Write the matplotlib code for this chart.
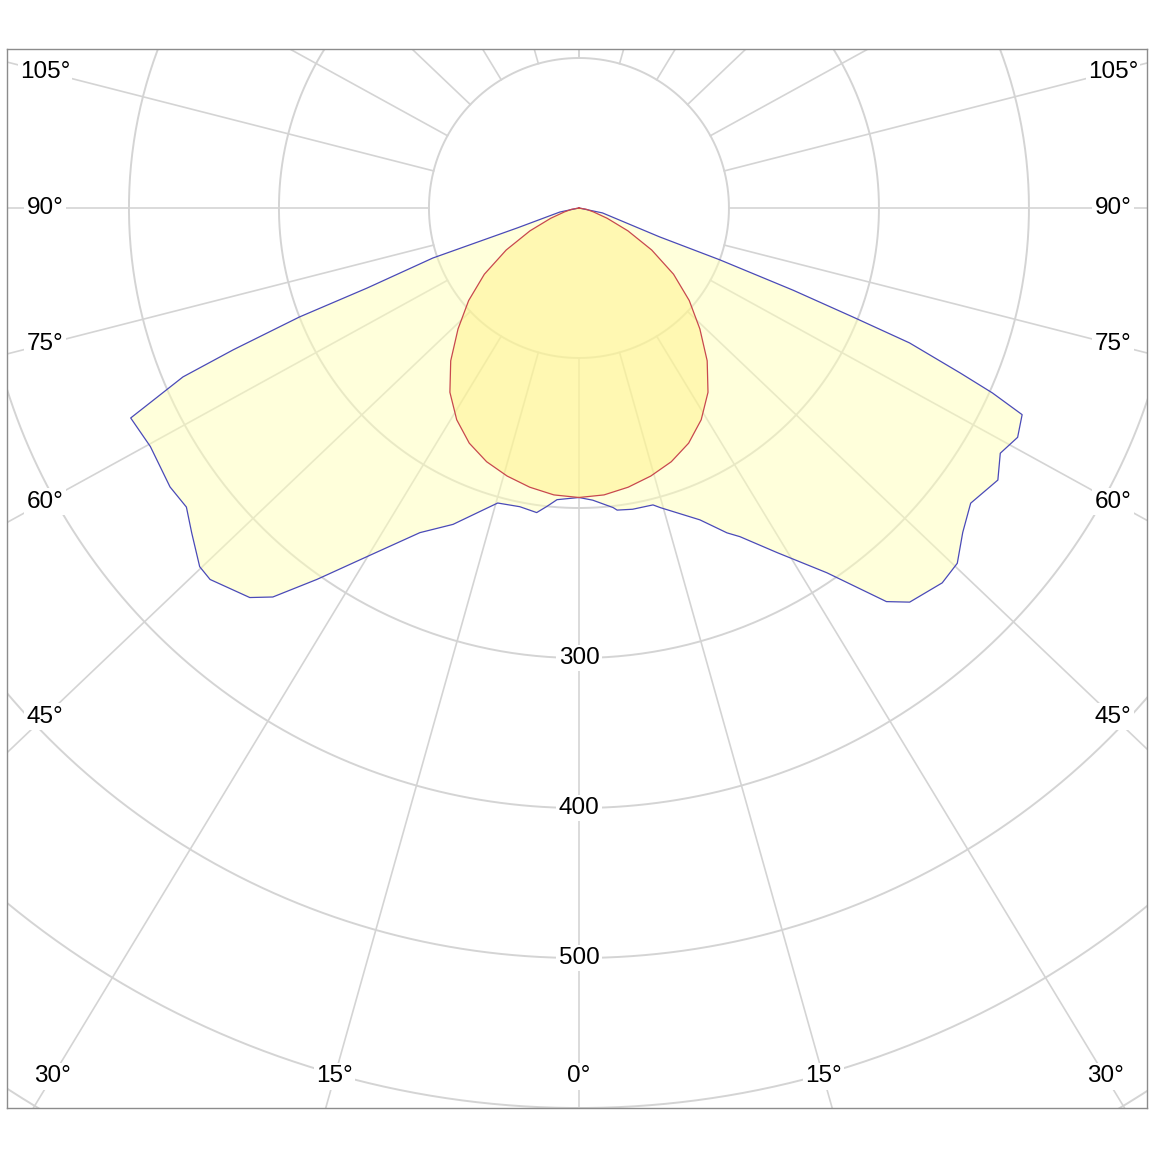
"""
Polar luminous intensity diagram (cd/klm style), C0 / C180 batwing plane + C90 plane.
"""
import numpy as np
import matplotlib
matplotlib.use("Agg")
import matplotlib.pyplot as plt

plt.rcParams['font.family'] = ['Liberation Sans', 'DejaVu Sans']

# blue plane, right half (gamma deg -> cd)
GAMMA_R = [0, 2.7, 6.5, 7.2, 10.1, 14.0, 15.2, 21.2, 24.5, 26.1, 29.9, 34.2, 38.0, 40.0,
           44.1, 46.8, 49.8, 53.0, 57.0, 59.8, 62.4, 65.0, 65.9, 66.6, 67.8, 68.3, 69.0,
           69.8, 70.3, 78.2, 90]
CD_R = [193, 195, 201, 203, 204, 204, 207, 223, 238, 244, 265, 294, 333, 343,
        348, 346, 335, 327, 333, 325, 330, 326, 302, 277, 238, 197, 153,
        100, 57, 16, 0]

# blue plane, left half
GAMMA_L = [0, 4.3, 6.1, 7.9, 11.2, 15.4, 21.7, 26.1, 31.3, 35.2, 38.2, 40.2, 44.8, 46.6,
           50.0, 52.7, 55.7, 60.9, 64.9, 66.9, 67.7, 68.7, 69.3, 71.1, 72.1, 78.1, 90]
CD_L = [193, 195, 200, 205, 203, 204, 227, 241, 272, 303, 330, 340, 349, 348,
        337, 329, 330, 327, 330, 287, 249, 200, 151, 103, 43, 13, 0]

# red plane (symmetric)
GAMMA_EGG = [0, 5, 10, 15, 20, 25, 30, 35, 40, 45, 50, 55, 60, 65, 70, 75, 80, 90]
CD_EGG = [193, 192, 189, 185, 180, 173, 163, 150, 133, 114, 96, 77, 56, 36, 20, 10, 5, 0]

RINGS = [100, 200, 300, 400, 500, 600, 700]
RING_LABELS = [300, 400, 500]
SPOKES = list(range(-180, 181, 15))
SIDE_LABELS = [45, 60, 75, 90, 105]
BOTTOM_LABELS = [-30, -15, 0, 15, 30]

GRID = '#d4d4d4'
K = 1.05  # spokes in the source are drawn slightly widened


def xy(gamma, cd, side=1):
    g = np.radians(np.asarray(gamma, float))
    cd = np.asarray(cd, float)
    return side * cd * np.sin(g), -cd * np.cos(g)


def spoke_dir(g):
    a = np.radians(g)
    v = np.array([K * np.sin(a), -np.cos(a)])
    return v / np.hypot(*v)


fig = plt.figure(figsize=(11.6, 11.6), dpi=100)
ax = fig.add_axes([7 / 1160, 52 / 1160, 1140 / 1160, 1059 / 1160])
ax.set_xlim(-381.3, 378.7)
ax.set_ylim(-600, 106)
ax.set_xticks([]); ax.set_yticks([])
for s in ax.spines.values():
    s.set_color('#8c8c8c'); s.set_linewidth(1.0)

# grid
t = np.linspace(0, 2 * np.pi, 721)
for r in RINGS:
    ax.plot(r * np.cos(t), r * np.sin(t), color=GRID, lw=1.4, zorder=1)
for g in SPOKES:
    d = spoke_dir(g)
    ax.plot([100 * d[0], 1100 * d[0]], [100 * d[1], 1100 * d[1]], color=GRID, lw=1.2, zorder=1)

# blue plane
xr, yr = xy(GAMMA_R, CD_R, 1)
xl, yl = xy(GAMMA_L, CD_L, -1)
bx = np.concatenate([xr[::-1], xl])
by = np.concatenate([yr[::-1], yl])
ax.fill(bx, by, color='#ffffb8', alpha=0.5, lw=0, zorder=2)
ax.plot(np.append(bx, bx[0]), np.append(by, by[0]), color='#4a4ab8', lw=0.9, zorder=3)

# red plane
er, eyr = xy(GAMMA_EGG, CD_EGG, 1)
el, eyl = xy(GAMMA_EGG, CD_EGG, -1)
ex = np.concatenate([er[::-1], el])
ey = np.concatenate([eyr[::-1], eyl])
ax.fill(ex, ey, color='#fff080', alpha=0.45, lw=0, zorder=2)
ax.plot(np.append(ex, ex[0]), np.append(ey, ey[0]), color='#c8484e', lw=0.9, zorder=3)

box = dict(fc='white', ec='none', pad=1.5)
kw = dict(fontsize=17.5, ha='center', va='center', bbox=box, zorder=5)

for v in RING_LABELS:
    ax.text(0, -v, str(v), **kw)

for g in SIDE_LABELS:
    d = spoke_dir(g)
    y = 356 * d[1] / d[0]
    ax.text(-356, y, f"{g}°", **kw)
    ax.text(356, y, f"{g}°", **kw)

for g in BOTTOM_LABELS:
    d = spoke_dir(g)
    x = -579 * d[0] / d[1]
    ax.text(x, -579, f"{abs(g)}°", **kw)

fig.savefig("out.png", dpi=100, facecolor='white')
